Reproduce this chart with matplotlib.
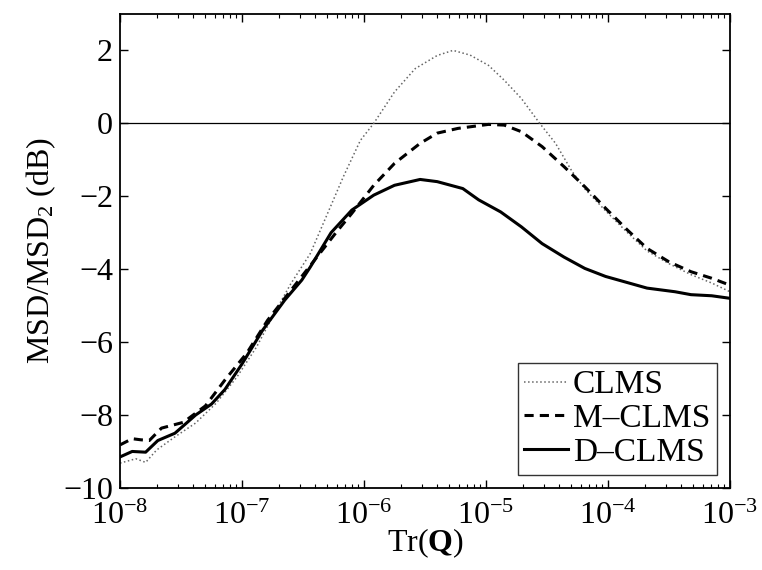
import numpy as np
import matplotlib
matplotlib.use("Agg")
import matplotlib.pyplot as plt

plt.rcParams['font.family'] = ['Liberation Serif', 'DejaVu Serif']
plt.rcParams['mathtext.fontset'] = 'custom'
plt.rcParams['mathtext.rm'] = 'Liberation Serif'
plt.rcParams['mathtext.bf'] = 'Liberation Serif:bold'
plt.rcParams['mathtext.it'] = 'Liberation Serif:italic'

# log10 Tr(Q) and MSD ratio in dB
lx_clms = [-8.0, -7.87, -7.79, -7.7, -7.55, -7.38, -7.21, -7.04, -6.88, -6.72, -6.6, -6.44, -6.31,
           -6.17, -6.03, -5.92, -5.75, -5.58, -5.40, -5.27, -5.13, -4.98, -4.85, -4.71,
           -4.56, -4.43, -4.30, -4.19, -4.02, -3.84, -3.68, -3.5, -3.32, -3.15, -3.0]
clms = [-9.32, -9.2, -9.3, -8.96, -8.6, -8.22, -7.67, -6.95, -6.13, -5.12, -4.4, -3.57, -2.56,
        -1.47, -0.47, 0.0, 0.86, 1.5, 1.86, 2.0, 1.87, 1.59, 1.18, 0.68,
        0.0, -0.55, -1.29, -1.8, -2.4, -3.0, -3.5, -3.85, -4.15, -4.38, -4.62]

lx_mclms = [-8.0, -7.9, -7.83, -7.76, -7.66, -7.48, -7.3, -7.14, -6.96, -6.79, -6.58, -6.23, -6.1,
            -5.92, -5.75, -5.54, -5.40, -5.23, -4.98, -4.85, -4.71, -4.54, -4.36, -4.19,
            -4.02, -3.84, -3.68, -3.5, -3.32, -3.15, -3.0]
mclms = [-8.82, -8.65, -8.68, -8.7, -8.36, -8.2, -7.75, -7.04, -6.3, -5.4, -4.5, -3.0, -2.47,
         -1.7, -1.1, -0.55, -0.27, -0.14, -0.03, -0.05, -0.23, -0.64, -1.19, -1.74,
         -2.33, -2.93, -3.43, -3.8, -4.07, -4.25, -4.44]

lx_dclms = [-8.0, -7.9, -7.79, -7.69, -7.55, -7.38, -7.25, -7.14, -7.0, -6.83, -6.65, -6.51, -6.44,
            -6.27, -6.1, -5.92, -5.75, -5.54, -5.40, -5.19, -5.06, -4.88, -4.71, -4.54, -4.36,
            -4.19, -4.02, -3.68, -3.45, -3.32, -3.15, -3.0]
dclms = [-9.15, -9.0, -9.02, -8.7, -8.5, -8.0, -7.7, -7.3, -6.6, -5.67, -4.85, -4.3, -3.94,
         -3.0, -2.38, -1.97, -1.7, -1.54, -1.6, -1.79, -2.1, -2.43, -2.84, -3.3, -3.67,
         -3.98, -4.2, -4.52, -4.62, -4.7, -4.73, -4.8]

xticks = [1e-8, 1e-7, 1e-6, 1e-5, 1e-4, 1e-3]
xticklabels = [r'$10^{-8}$', r'$10^{-7}$', r'$10^{-6}$', r'$10^{-5}$', r'$10^{-4}$', r'$10^{-3}$']
yticks = [-10, -8, -6, -4, -2, 0, 2]

fig = plt.figure(figsize=(7.62, 5.70), dpi=100)
ax = fig.add_axes([0.1575, 0.144, 0.8005, 0.8316])

ax.axhline(0, color='black', linewidth=0.9)
ax.semilogx(10.0 ** np.array(lx_clms), clms, linestyle=':', color='#666666', linewidth=1.1, label='CLMS')
ax.semilogx(10.0 ** np.array(lx_mclms), mclms, linestyle='--', color='black', linewidth=2.2,
            dashes=(3, 2), label='M\u2013CLMS')
ax.semilogx(10.0 ** np.array(lx_dclms), dclms, linestyle='-', color='black', linewidth=2.2, label='D\u2013CLMS')

ax.set_xlim(1e-8, 1e-3)
ax.set_ylim(-10, 3)
ax.set_xticks(xticks)
ax.set_xticklabels(xticklabels)
ax.set_yticks(yticks)
ax.set_yticklabels([str(v).replace('-', '\u2212') for v in yticks])
ax.tick_params(which='both', direction='in', top=True, right=True, labelsize=23)
ax.tick_params(axis='x', pad=10)
ax.tick_params(axis='y', pad=5)
ax.tick_params(which='major', length=6, width=1)
ax.tick_params(which='minor', length=3, width=0.8)
for s in ax.spines.values():
    s.set_linewidth(1.3)

ax.set_xlabel(r'Tr($\mathbf{Q}$)', fontsize=23, labelpad=-3)
ax.set_ylabel(r'MSD/MSD$_2$ (dB)', fontsize=23, labelpad=4)

leg = ax.legend(loc='lower right', fontsize=24, frameon=True, fancybox=False, edgecolor='black',
                handlelength=1.3, handletextpad=0.15, borderpad=0.2, labelspacing=0.1,
                borderaxespad=0.4)
leg.get_frame().set_linewidth(1.0)

fig.savefig('out.png', dpi=100)
